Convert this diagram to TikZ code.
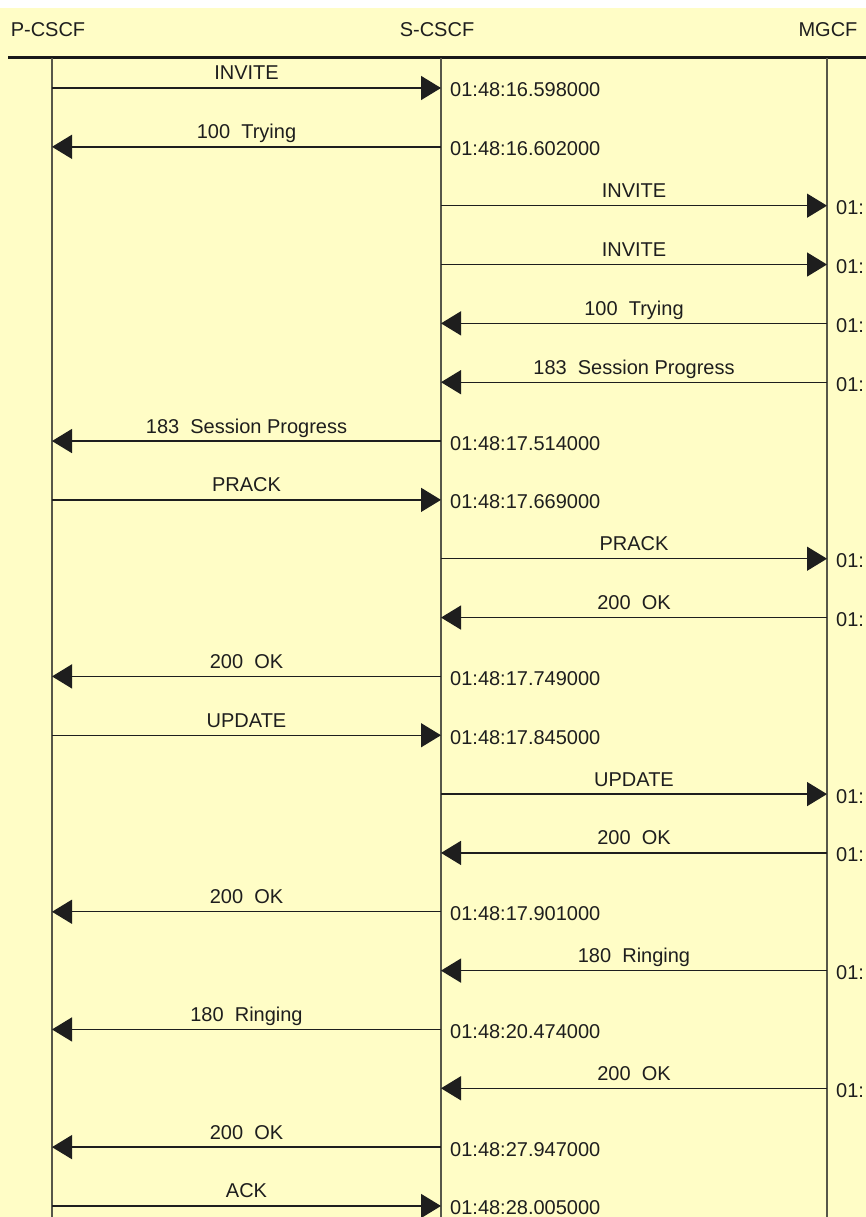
\documentclass[tikz,border=0pt]{standalone}
\usepackage{fontspec}
\setmainfont{Liberation Sans}
\usetikzlibrary{arrows.meta}
\definecolor{notepad}{HTML}{FFFDC6}
\definecolor{lifegray}{HTML}{57574A}
\definecolor{inkgray}{HTML}{1E1E1E}
\begin{document}
\begin{tikzpicture}[x=1pt,y=-1pt,
    msg/.style={draw=inkgray,line width=1.4pt,-{Triangle[length=20pt,width=24pt]}},
    lbl/.style={anchor=base,inner sep=0pt,text=inkgray,font=\fontsize{20}{23}\selectfont},
    stamp/.style={anchor=base west,inner sep=0pt,text=inkgray,font=\fontsize{20}{23}\selectfont}]
  \fill[white] (0,0) rectangle (866,1217);
  \fill[notepad] (0,8) rectangle (866,1217);
  \clip (0,0) rectangle (866,1217);
  % header
  \node[lbl] (pname) at (48,37) {P-CSCF};
  \node[lbl] (sname) at (437,37) {S-CSCF};
  \node[lbl] (mname) at (828,37) {MGCF};
  \coordinate (hl) at (8,58);
  \coordinate (hr) at (866,58);
  \draw[line width=3pt,black!90] (hl) -- (hr);
  % lifelines
  \foreach \n/\x in {p/52,s/441,m/827} {
    \coordinate (\n top) at (\x,58);
    \coordinate (\n bot) at (\x,1217);
    \draw[lifegray,line width=1.5pt] (\n top) -- (\n bot);
  }
  % message rows
  \foreach \i in {1,...,20} {
    \coordinate (p\i) at (52,{29.16+58.84*\i});
    \coordinate (s\i) at (441,{29.16+58.84*\i});
    \coordinate (m\i) at (827,{29.16+58.84*\i});
  }
  \foreach \i/\src/\dst/\txt/\tm/\side in {
      1/p/s/INVITE/01:48:16.598000/s,
      2/s/p/100\ \ Trying/01:48:16.602000/s,
      3/s/m/INVITE/01:/m,
      4/s/m/INVITE/01:/m,
      5/m/s/100\ \ Trying/01:/m,
      6/m/s/183\ \ Session Progress/01:/m,
      7/s/p/183\ \ Session Progress/01:48:17.514000/s,
      8/p/s/PRACK/01:48:17.669000/s,
      9/s/m/PRACK/01:/m,
      10/m/s/200\ \ OK/01:/m,
      11/s/p/200\ \ OK/01:48:17.749000/s,
      12/p/s/UPDATE/01:48:17.845000/s,
      13/s/m/UPDATE/01:/m,
      14/m/s/200\ \ OK/01:/m,
      15/s/p/200\ \ OK/01:48:17.901000/s,
      16/m/s/180\ \ Ringing/01:/m,
      17/s/p/180\ \ Ringing/01:48:20.474000/s,
      18/m/s/200\ \ OK/01:/m,
      19/s/p/200\ \ OK/01:48:27.947000/s,
      20/p/s/ACK/01:48:28.005000/s} {
    \draw[msg] (\src\i) -- (\dst\i)
      node[lbl,midway,yshift=8pt] (msg\i) {\txt};
    \node[stamp] (t\i) at ([xshift=9pt,yshift=-9pt]\side\i) {\tm};
  }
\end{tikzpicture}
\end{document}
